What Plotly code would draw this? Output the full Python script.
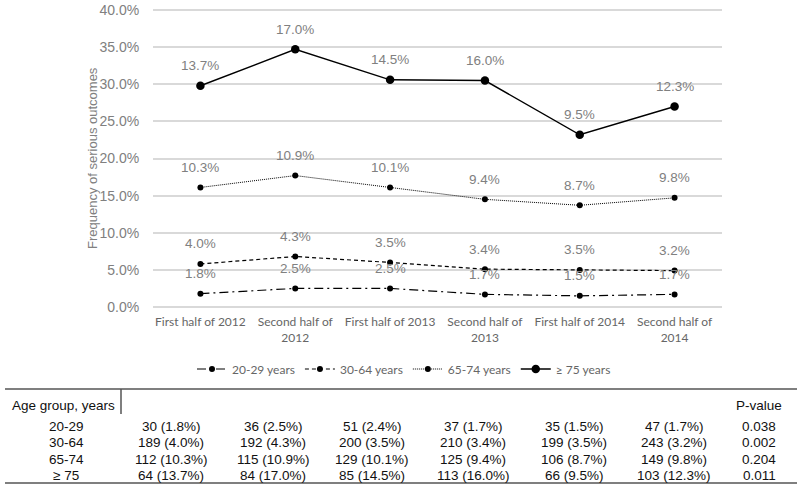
import plotly.graph_objects as go
import numpy as np

# ---------------- data ----------------
periods = ["First half of 2012", "Second half of<br>2012", "First half of 2013",
           "Second half of<br>2013", "First half of 2014", "Second half of<br>2014"]
groups = ["20-29 years", "30-64 years", "65-74 years", "\u2265 75 years"]

# chart values (%), per age group (plotted stacked, labelled individually)
chart_2029 = [1.8, 2.5, 2.5, 1.7, 1.5, 1.7]
chart_3064 = [4.0, 4.3, 3.5, 3.4, 3.5, 3.2]
chart_6574 = [10.3, 10.9, 10.1, 9.4, 8.7, 9.8]
chart_75 = [13.7, 17.0, 14.5, 16.0, 9.5, 12.3]

# table
row_labels = ["20-29", "30-64", "65-74", "\u2265 75"]
count_2029 = [30, 36, 51, 37, 35, 47]
pct_2029 = [1.8, 2.5, 2.4, 1.7, 1.5, 1.7]
count_3064 = [189, 192, 200, 210, 199, 243]
pct_3064 = [4.0, 4.3, 3.5, 3.4, 3.5, 3.2]
count_6574 = [112, 115, 129, 125, 106, 149]
pct_6574 = [10.3, 10.9, 10.1, 9.4, 8.7, 9.8]
count_75 = [64, 84, 85, 113, 66, 103]
pct_75 = [13.7, 17.0, 14.5, 16.0, 9.5, 12.3]
p_values = ["0.038", "0.002", "0.204", "0.011"]

# ---------------- figure ----------------
W, H = 800, 489


def px(x):
    return x / W


def py(y):
    return 1 - y / H


chart_vals = [chart_2029, chart_3064, chart_6574, chart_75]
cum = np.cumsum(np.array(chart_vals), axis=0)

dashes = ["9px,4px,2px,4px", "4px,3px", "1px,1px", "solid"]
msizes = [6, 6, 6, 8.5]
lwidths = [1.2, 1.2, 1.0, 1.4]

fig = go.Figure()
for i, g in enumerate(groups):
    fig.add_trace(go.Scatter(
        x=periods, y=cum[i], name=g, mode="lines+markers",
        line=dict(color="black", width=lwidths[i], dash=dashes[i]),
        marker=dict(color="black", size=msizes[i]),
        hoverinfo="skip", cliponaxis=False,
    ))

annotations = []
for i, vals in enumerate(chart_vals):
    for j, v in enumerate(vals):
        annotations.append(dict(
            x=periods[j], y=cum[i][j], xref="x", yref="y",
            text=f"{v:.1f}%", showarrow=False, yshift=20,
            font=dict(family="Liberation Sans, Arial", size=13.5, color="#808080"),
        ))

# y-axis title
annotations.append(dict(
    x=px(92), y=py(158), xref="paper", yref="paper", text="Frequency of serious outcomes",
    textangle=-90, showarrow=False, xanchor="center", yanchor="middle",
    font=dict(family="Liberation Sans, Arial", size=13, color="#808080"),
))

# ---------------- table ----------------
tfont = dict(family="Liberation Sans, Arial", size=13.5, color="#111111")
label_x = 66
col_x = [171, 273, 372, 473, 574, 674]
p_x = 759
header_y = 405
row_y = [426, 442.5, 459, 475.5]
annotations.append(dict(x=px(63), y=py(header_y), xref="paper", yref="paper", text="Age group, years",
                        showarrow=False, font=tfont, xanchor="center", yanchor="middle"))
annotations.append(dict(x=px(p_x), y=py(header_y), xref="paper", yref="paper", text="P-value",
                        showarrow=False, font=tfont, xanchor="center", yanchor="middle"))
table_counts = [count_2029, count_3064, count_6574, count_75]
table_pcts = [pct_2029, pct_3064, pct_6574, pct_75]
for r in range(4):
    annotations.append(dict(x=px(label_x), y=py(row_y[r]), xref="paper", yref="paper", text=row_labels[r],
                            showarrow=False, font=tfont, xanchor="center", yanchor="middle"))
    for c in range(6):
        annotations.append(dict(
            x=px(col_x[c]), y=py(row_y[r]), xref="paper", yref="paper",
            text=f"{table_counts[r][c]} ({table_pcts[r][c]:.1f}%)",
            showarrow=False, font=tfont, xanchor="center", yanchor="middle"))
    annotations.append(dict(x=px(p_x), y=py(row_y[r]), xref="paper", yref="paper", text=p_values[r],
                            showarrow=False, font=tfont, xanchor="center", yanchor="middle"))

lc = dict(color="#555555", width=1.5)
shapes = [
    dict(type="line", xref="paper", yref="paper", x0=px(5), x1=px(797), y0=py(389), y1=py(389), line=lc),
    dict(type="line", xref="paper", yref="paper", x0=px(5), x1=px(797), y0=py(483), y1=py(483), line=lc),
    dict(type="line", xref="paper", yref="paper", x0=px(121), x1=px(121), y0=py(389), y1=py(414), line=lc),
]

# y axis: 0% at y=307px, 40% at y=10px; range extends a hair above 40% so its gridline is drawn
y_top_val = 40.2
px_per_unit = (307 - 10) / 40.0
y_top_px = 307 - y_top_val * px_per_unit

fig.update_layout(
    width=W, height=H,
    margin=dict(l=0, r=0, t=0, b=0, pad=0, autoexpand=False),
    paper_bgcolor="white", plot_bgcolor="white",
    showlegend=True,
    legend=dict(orientation="h", x=px(404), xanchor="center", y=py(369), yanchor="middle",
                font=dict(family="Lato", size=12, color="#666666"),
                itemwidth=30, bgcolor="rgba(0,0,0,0)"),
    xaxis=dict(domain=[px(153), px(722)], range=[-0.5, 5.5], showgrid=False, zeroline=False,
               automargin=False,
               showline=False, ticks="outside", ticklen=4, tickcolor="rgba(0,0,0,0)",
               tickfont=dict(family="Lato", size=12, color="#666666")),
    yaxis=dict(domain=[py(307), py(y_top_px)], range=[0, y_top_val], dtick=5, ticksuffix="%",
               automargin=False, ticklabeloverflow="allow",
               tickformat=".1f", showgrid=True, gridcolor="#d9d9d9", gridwidth=1.5,
               zeroline=True, zerolinecolor="#d9d9d9", zerolinewidth=1.5,
               showline=False, ticks="outside", ticklen=10, tickcolor="rgba(0,0,0,0)",
               tickfont=dict(family="Liberation Sans, Arial", size=14, color="#808080")),
    annotations=annotations,
    shapes=shapes,
)

# remove the browser's default page margin so the 800x489 figure fills the window exactly
fig.write_html("out.html", config={"displayModeBar": False},
               post_script="document.body.style.margin='0';")
